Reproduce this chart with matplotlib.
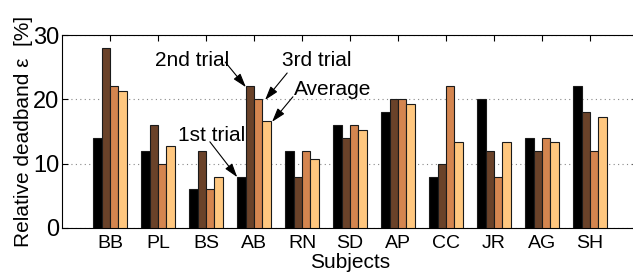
import numpy as np
import matplotlib
matplotlib.use("Agg")
from matplotlib import pyplot as plt

plt.rcParams['font.family'] = ['Liberation Sans', 'DejaVu Sans']

subjects = ['BB', 'PL', 'BS', 'AB', 'RN', 'SD', 'AP', 'CC', 'JR', 'AG', 'SH']
trial1 = [14, 12, 6, 8, 12, 16, 18, 8, 20, 14, 22]
trial2 = [28, 16, 12, 22, 8, 14, 20, 10, 12, 12, 18]
trial3 = [22, 10, 6, 20, 12, 16, 20, 22, 8, 14, 12]
average = [21.3, 12.7, 8, 16.7, 10.7, 15.3, 19.3, 13.3, 13.3, 13.3, 17.3]

colors = ['#000000', '#6a4229', '#d4854f', '#ffc77f']
series = [trial1, trial2, trial3, average]

fig = plt.figure(figsize=(6.33, 2.76), dpi=100)
ax = fig.add_axes([0.098, 0.174, 0.91, 0.699])

x = np.arange(1, len(subjects) + 1)
w = 0.175
for i, vals in enumerate(series):
    ax.bar(x + (i - 1.5) * w, vals, width=w, color=colors[i],
           edgecolor='#1a1a1a', linewidth=0.8, zorder=3)

ax.set_xlim(0, 12)
ax.set_ylim(0, 30)
ax.set_yticks([0, 10, 20, 30])
ax.set_xticks(x)
ax.set_xticklabels(subjects)
ax.tick_params(direction='in', top=True, right=True, length=4)
ax.tick_params(axis='x', labelsize=14, pad=5)
ax.tick_params(axis='y', labelsize=17, pad=2)
ax.yaxis.grid(True, linestyle=(0, (1, 3)), color='#888888', linewidth=0.8)
ax.set_ylabel('Relative deadband \u03b5  [%]', fontsize=15, labelpad=0)
ax.set_xlabel('Subjects', fontsize=15, labelpad=1)

# labels for the AB group
ax.text(2.71, 26.1, '2nd trial', fontsize=15, ha='center', va='center')
ax.text(5.30, 26.1, '3rd trial', fontsize=15, ha='center', va='center')
ax.text(5.64, 21.5, 'Average', fontsize=15, ha='center', va='center')
ax.text(3.11, 14.4, '1st trial', fontsize=15, ha='center', va='center')

ap = dict(arrowstyle='-|>,head_length=0.7,head_width=0.22', color='black',
          lw=0.8, mutation_scale=12, shrinkA=0, shrinkB=0)
ax.annotate('', xy=(3.83, 21.9), xytext=(3.40, 25.8), arrowprops=ap)
ax.annotate('', xy=(4.23, 19.9), xytext=(4.69, 24.1), arrowprops=ap)
ax.annotate('', xy=(4.375, 16.5), xytext=(4.81, 20.4), arrowprops=ap)
ax.annotate('', xy=(3.65, 7.9), xytext=(3.08, 13.4), arrowprops=ap)

fig.savefig('out.png', dpi=100)
